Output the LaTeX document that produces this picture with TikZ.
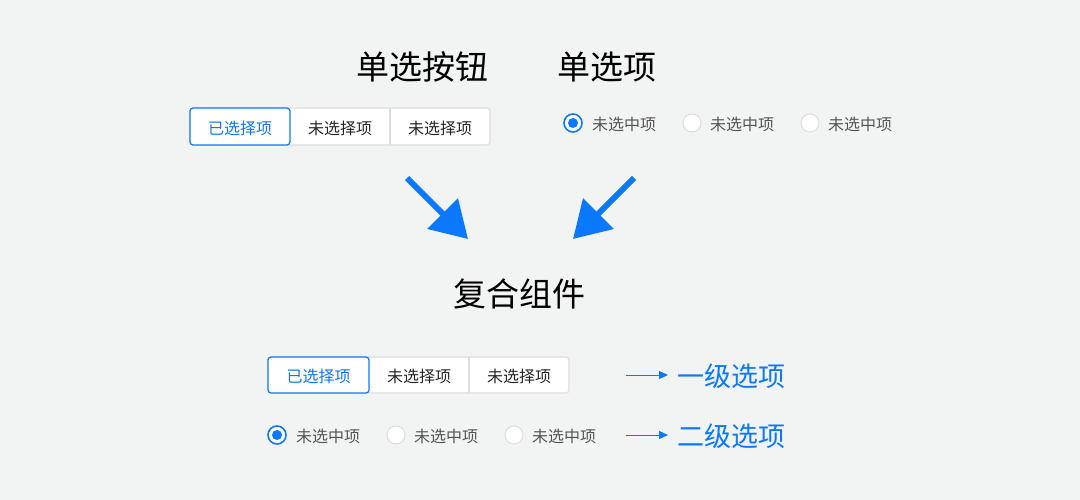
\documentclass[tikz,border=0pt]{standalone}
\usepackage{fontspec}
\setmainfont{Noto Sans CJK SC}
\usetikzlibrary{arrows.meta}
\definecolor{bg}{HTML}{F2F3F3}
\definecolor{blu}{HTML}{0A78FF}
\definecolor{bord}{HTML}{DCDDDE}
\definecolor{gtxt}{HTML}{555555}
\begin{document}
\begin{tikzpicture}[x=1pt,y=-1pt,
  title/.style={font=\fontsize{33}{36}\selectfont, text=black, inner sep=0},
  sub/.style={font=\fontsize{27}{30}\selectfont, text=blu, inner sep=0, anchor=west},
  seg/.style={draw=none, fill=none, inner sep=0, font=\fontsize{16}{18}\selectfont, text=black!85},
  segsel/.style={seg, text=blu},
  rad/.style={circle, draw=bord, line width=1pt, fill=white, minimum size=18pt, inner sep=0},
  radsel/.style={circle, draw=blu, line width=1.6pt, fill=white, minimum size=18pt, inner sep=0},
  rtxt/.style={font=\fontsize{16}{18}\selectfont, text=gtxt, inner sep=0, anchor=west},
  bigarrow/.style={draw=blu, line width=6pt, -{Triangle[length=36pt,width=42pt]}},
  smallarrow/.style={draw=blu, line width=1pt, -{Triangle[length=9pt,width=8pt]}}
]
\useasboundingbox (0,0) rectangle (1080,500);
\fill[bg] (0,0) rectangle (1080,500);

% titles
\node[title] (t1) at (422,67) {单选按钮};
\node[title] (t2) at (607,67) {单选项};
\node[title] (t3) at (519,294) {复合组件};

% button group top
\draw[bord, line width=1.2pt, fill=white, rounded corners=3pt] (190,108) rectangle (490,145);
\node[seg] (b2) at (340,128) {未选择项};
\node[seg] (b3) at (440,128) {未选择项};
\draw[bord, line width=1.2pt] (390,108) -- (390,145);
\draw[blu, line width=1.2pt, fill=white, rounded corners=3pt] (190,108) rectangle (290,145);
\node[segsel] (b1) at (240,128) {已选择项};

% radio top
\node[radsel] (r1) at (573,123) {};
\fill[blu] (r1.center) circle (5pt);
\node[rtxt] (r1t) at (592,124) {未选中项};
\node[rad] (r2) at (692,123) {};
\node[rtxt] (r2t) at (710,124) {未选中项};
\node[rad] (r3) at (810,123) {};
\node[rtxt] (r3t) at (828,124) {未选中项};

% big arrows
\coordinate (a1s) at (407,178);
\coordinate (a1e) at (468,239);
\coordinate (a2s) at (634,178);
\coordinate (a2e) at (573,239);
\draw[bigarrow] (a1s) -- (a1e);
\draw[bigarrow] (a2s) -- (a2e);

% button group bottom
\draw[bord, line width=1.2pt, fill=white, rounded corners=3pt] (268,357) rectangle (569,393);
\node[seg] (c2) at (419,376) {未选择项};
\node[seg] (c3) at (519,376) {未选择项};
\draw[bord, line width=1.2pt] (469,357) -- (469,393);
\draw[blu, line width=1.2pt, fill=white, rounded corners=3pt] (268,357) rectangle (369,393);
\node[segsel] (c1) at (318.5,376) {已选择项};

% radio bottom
\node[radsel] (s1) at (277,435) {};
\fill[blu] (s1.center) circle (5pt);
\node[rtxt] (s1t) at (296,436) {未选中项};
\node[rad] (s2) at (396,435) {};
\node[rtxt] (s2t) at (414,436) {未选中项};
\node[rad] (s3) at (514,435) {};
\node[rtxt] (s3t) at (532,436) {未选中项};

% labels
\node[sub] (l1) at (677,376) {一级选项};
\node[sub] (l2) at (677,436) {二级选项};
\coordinate (p1) at (626,375);
\coordinate (p2) at (626,435);
\draw[smallarrow] (p1) -- (668,375);
\draw[smallarrow] (p2) -- (668,435);
\end{tikzpicture}
\end{document}
